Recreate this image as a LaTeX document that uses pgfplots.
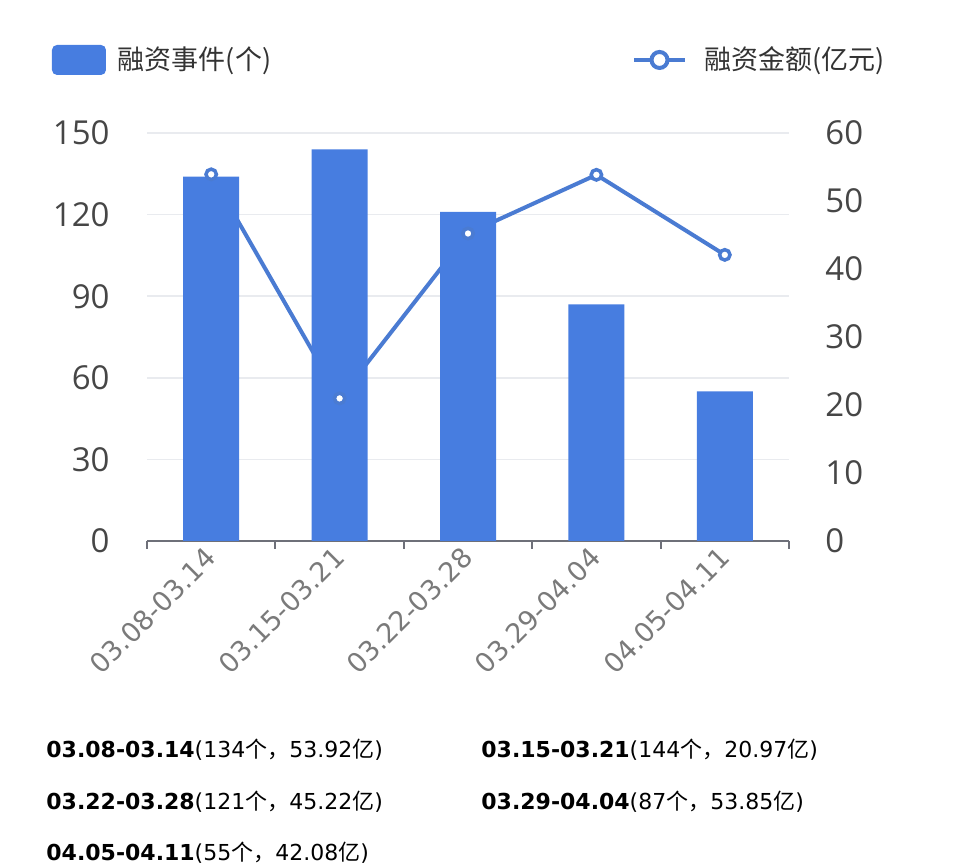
\documentclass[border=0pt]{standalone}
\usepackage{fontspec}
\setmainfont{DejaVu Sans}
\newfontfamily\cjk{Noto Sans CJK SC}
\newfontfamily\osans{Open Sans}
\usepackage{pgfplots}
\pgfplotsset{compat=1.18}

\definecolor{barc}{HTML}{477DE0}
\definecolor{linec}{HTML}{4A7BD2}
\definecolor{gridc}{HTML}{E9EBEF}
\definecolor{axc}{HTML}{6E7079}
\definecolor{labc}{HTML}{464646}
\definecolor{xlabc}{HTML}{7A7A7A}
\definecolor{legc}{HTML}{333333}

\pgfplotsset{
  base/.style={
    at={(73.5pt,163.5pt)}, anchor=south west,
    scale only axis, width=321pt, height=204pt,
    xmin=-0.5, xmax=4.5, enlargelimits=false,
    /pgf/number format/assume math mode=true,
  },
  ylab/.style={font=\osans\fontsize{16.5}{16.5}\selectfont, color=labc, inner sep=0pt},
}

\begin{document}
\begin{tikzpicture}
\useasboundingbox (0,0) rectangle (480pt,434pt);

% line, drawn first so that the bars cover it; grid follows the left axis (every 30)
\begin{axis}[base, ymin=0, ymax=60, ytick={12,24,36,48,60}, yticklabels={},
  xtick=\empty, ymajorgrids, grid style={gridc, line width=0.8pt},
  axis line style={draw=none}, major tick style={draw=none}]
\addplot[linec, line width=2pt] coordinates {(0,53.92) (1,20.97) (2,45.22) (3,53.85) (4,42.08)};
\end{axis}

% bars
\begin{axis}[base, ymin=0, ymax=150, ytick={0,30,...,150},
  axis x line*=bottom, axis y line*=left,
  y axis line style={draw=none}, x axis line style={axc, line width=1pt},
  xtick={0,...,4},
  xticklabels={03.08-03.14,03.15-03.21,03.22-03.28,03.29-04.04,04.05-04.11},
  minor xtick={-0.5,0.5,...,4.5},
  major x tick style={draw=none}, ytick style={draw=none},
  minor x tick style={axc, line width=1pt}, minor tick length=4pt,
  xtick align=outside,
  yticklabel style={ylab, xshift=-18.5pt},
  xticklabel style={font=\fontsize{13.5}{13.5}\selectfont, color=xlabc, inner sep=0pt,
    anchor=east, xshift=0pt, yshift=-1.5pt, rotate=45},
  ybar, bar width=28pt,
  legend style={at={(-0.148,1.179)}, anchor=west, draw=none, fill=none,
    inner sep=0pt, outer sep=0pt, column sep=6pt, nodes={inner sep=0pt},
    font=\cjk\fontsize{13.5}{13.5}\selectfont, text=legc}]
\addplot[fill=barc, draw=none,
  legend image code/.code={\fill[barc, rounded corners=2.5pt] (0pt,-7.5pt) rectangle (27pt,7.5pt);}]
  coordinates {(0,134) (1,144) (2,121) (3,87) (4,55)};
\addlegendentry{融资事件(个)}
\end{axis}

% markers on top, right axis
\begin{axis}[base, ymin=0, ymax=60, ytick={0,10,...,60},
  axis y line*=right, axis x line=none,
  y axis line style={draw=none}, ytick style={draw=none},
  yticklabel style={ylab, xshift=18pt},
  legend style={at={(0.7555,1.179)}, anchor=west, draw=none, fill=none,
    inner sep=0pt, outer sep=0pt, column sep=8.5pt, nodes={inner sep=0pt},
    font=\cjk\fontsize{13.5}{13.5}\selectfont, text=legc}]
\addlegendimage{legend image code/.code={
  \draw[linec, line width=2pt] (0pt,0pt) -- (25.5pt,0pt);
  \draw[linec, line width=2pt, fill=white] (12.75pt,0pt) circle (4pt);}}
\addlegendentry{融资金额(亿元)}
\addplot[only marks, mark=*, mark size=2.6pt,
  mark options={fill=white, draw=linec, line width=1.75pt}]
  coordinates {(0,53.92) (1,20.97) (2,45.22) (3,53.85) (4,42.08)};
\end{axis}

% summary under the chart
\begin{scope}[every node/.style={anchor=base west, inner sep=0pt, font=\fontsize{11}{11}\selectfont, text=black}]
\node at (23pt,55pt) {\bfseries 03.08-03.14\mdseries(134{\cjk 个，}53.92{\cjk 亿})};
\node at (240.5pt,55pt) {\bfseries 03.15-03.21\mdseries(144{\cjk 个，}20.97{\cjk 亿})};
\node at (23pt,29pt) {\bfseries 03.22-03.28\mdseries(121{\cjk 个，}45.22{\cjk 亿})};
\node at (240.5pt,29pt) {\bfseries 03.29-04.04\mdseries(87{\cjk 个，}53.85{\cjk 亿})};
\node at (23pt,3.5pt) {\bfseries 04.05-04.11\mdseries(55{\cjk 个，}42.08{\cjk 亿})};
\end{scope}
\end{tikzpicture}
\end{document}
